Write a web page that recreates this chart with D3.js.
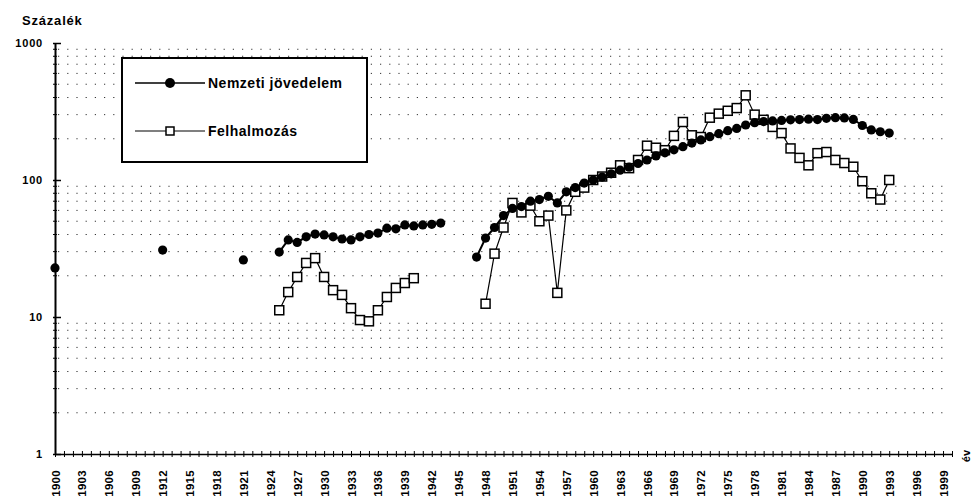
<!DOCTYPE html>
<html>
<head>
<meta charset="utf-8">
<script src="https://cdn.jsdelivr.net/npm/d3@7"></script>
<style>
body { margin: 0; background: #fff; }
text { font-family: "Liberation Sans", Arial, sans-serif; font-weight: bold; fill: #000; }
.axis path, .axis line { stroke: #000; }
.grid { stroke: #000; stroke-width: 1; stroke-dasharray: 1.2 8; opacity: 0.8; }
</style>
</head>
<body>
<div id="plot"></div>
<script>
// Nemzeti jövedelem (filled circles)
var niYears = [1900, 1912, 1921,
    1925, 1926, 1927, 1928, 1929, 1930, 1931, 1932, 1933, 1934, 1935, 1936, 1937, 1938, 1939, 1940, 1941, 1942, 1943,
    1947, 1948, 1949, 1950, 1951, 1952, 1953, 1954, 1955, 1956, 1957, 1958, 1959, 1960, 1961, 1962, 1963, 1964, 1965,
    1966, 1967, 1968, 1969, 1970, 1971, 1972, 1973, 1974, 1975, 1976, 1977, 1978, 1979, 1980, 1981, 1982, 1983, 1984,
    1985, 1986, 1987, 1988, 1989, 1990, 1991, 1992, 1993];
var niValues = [22.8, 30.8, 26.1,
    29.8, 36.5, 35, 38.5, 40.3, 39.7, 38.5, 37.1, 36.5, 38.5, 40, 41, 44.5, 44, 47, 46.2, 47, 47.5, 48.5,
    27.4, 37.7, 45, 55, 62, 64, 70, 72, 76, 68, 82, 88, 95, 100, 105, 111, 118, 124, 132,
    140, 150, 158, 166, 175, 186, 196, 207, 218, 229, 238, 252, 262, 267, 270, 272, 275, 276, 278,
    276, 282, 285, 284, 277, 250, 232, 225, 220];

// Felhalmozás (open squares)
var fhYears = [1925, 1926, 1927, 1928, 1929, 1930, 1931, 1932, 1933, 1934, 1935, 1936, 1937, 1938, 1939, 1940,
    1948, 1949, 1950, 1951, 1952, 1953, 1954, 1955, 1956, 1957, 1958, 1959, 1960, 1961, 1962, 1963, 1964, 1965,
    1966, 1967, 1968, 1969, 1970, 1971, 1972, 1973, 1974, 1975, 1976, 1977, 1978, 1979, 1980, 1981, 1982, 1983, 1984,
    1985, 1986, 1987, 1988, 1989, 1990, 1991, 1992, 1993];
var fhValues = [11.2, 15.2, 19.6, 24.8, 26.9, 19.6, 15.7, 14.5, 11.6, 9.5, 9.3, 11.2, 14, 16.3, 17.7, 19.2,
    12.5, 29, 45, 68, 58, 65, 50, 55, 15, 60, 82, 88, 100, 106, 113, 128, 122, 140,
    178, 172, 165, 210, 265, 212, 206, 285, 305, 320, 335, 415, 300, 275, 244, 220, 170, 145, 128,
    157, 160, 140, 133, 125, 98, 80, 72, 100];

var yTicks = [1, 10, 100, 1000];
var legendNames = ["Nemzeti jövedelem", "Felhalmozás"];

var W = 973, H = 503;
var svg = d3.select('#plot').append('svg').attr('width', W).attr('height', H);

var x = d3.scaleLinear().domain([1900, 2000]).range([55, 952]);
var y = d3.scaleLog().domain([1, 1000]).range([454, 43]);

// dotted grid at the minor log values
var minor = [];
[1, 10, 100].forEach(function(d){
    for (var k = 2; k <= 9; k++) minor.push(d * k);
});
svg.append('g').selectAll('line').data(minor).enter().append('line')
    .attr('class', 'grid')
    .attr('x1', 58).attr('x2', 950)
    .attr('y1', function(d){ return y(d); })
    .attr('y2', function(d){ return y(d); });

// y axis
var axisY = d3.axisLeft(y).tickValues(yTicks).tickFormat(d3.format('d')).tickSize(0).tickPadding(12);
var gy = svg.append('g').attr('class', 'axis').attr('transform', 'translate(55,0)').call(axisY);
gy.select('.domain').attr('stroke-width', 2);
gy.selectAll('text').style('font-size', '11px').style('letter-spacing', '0.8px');
gy.selectAll('.tick').append('line').attr('x1', -2).attr('x2', 6).attr('stroke-width', 1.5);
gy.selectAll('.minor').data(minor).enter().append('line')
    .attr('class', 'minor')
    .attr('x1', -2).attr('x2', 2)
    .attr('y1', function(d){ return y(d); })
    .attr('y2', function(d){ return y(d); })
    .attr('stroke', '#000');

// x axis, a tick every year, a label every 3 years
var years = d3.range(1900, 2001);
var axisX = d3.axisBottom(x).tickValues(years)
    .tickFormat(function(d){ return (d - 1900) % 3 === 0 && d < 2000 ? d : ''; })
    .tickSizeOuter(0);
var gx = svg.append('g').attr('class', 'axis').attr('transform', 'translate(0,454)').call(axisX);
gx.select('.domain').attr('stroke-width', 1.6);
gx.selectAll('.tick line').attr('y1', -3).attr('y2', 3);
gx.selectAll('.tick text')
    .attr('transform', 'rotate(-90)')
    .attr('x', -16).attr('y', 0).attr('dy', '0.35em')
    .style('text-anchor', 'end')
    .style('font-size', '11.5px')
    .style('letter-spacing', '0.3px');

svg.append('text').attr('transform', 'translate(970,456) rotate(-90)')
    .attr('text-anchor', 'middle').style('font-size', '11px').text('év');

svg.append('text').attr('x', 22).attr('y', 25)
    .style('font-size', '13px').style('letter-spacing', '0.8px').text('Százalék');

// split a series into runs of consecutive years
function runs(yrs, vals){
    var out = [], cur = [];
    yrs.forEach(function(yr, i){
        if (cur.length && yr - cur[cur.length - 1].year > 1) { out.push(cur); cur = []; }
        cur.push({year: yr, value: vals[i]});
    });
    if (cur.length) out.push(cur);
    return out;
}

var line = d3.line()
    .x(function(d){ return x(d.year); })
    .y(function(d){ return y(d.value); });

var fhRuns = runs(fhYears, fhValues);
var niRuns = runs(niYears, niValues);

// Felhalmozás
var fh = svg.append('g');
fh.selectAll('path').data(fhRuns).enter().append('path')
    .attr('d', line).attr('fill', 'none').attr('stroke', '#000').attr('stroke-width', 1.2);
fh.selectAll('rect').data(d3.merge(fhRuns)).enter().append('rect')
    .attr('x', function(d){ return x(d.year) - 4.5; })
    .attr('y', function(d){ return y(d.value) - 4.5; })
    .attr('width', 9).attr('height', 9)
    .attr('fill', '#fff').attr('stroke', '#000').attr('stroke-width', 1.5);

// Nemzeti jövedelem
var ni = svg.append('g');
ni.selectAll('path').data(niRuns).enter().append('path')
    .attr('d', line).attr('fill', 'none').attr('stroke', '#000').attr('stroke-width', 2);
ni.selectAll('circle').data(d3.merge(niRuns)).enter().append('circle')
    .attr('cx', function(d){ return x(d.year); })
    .attr('cy', function(d){ return y(d.value); })
    .attr('r', 4.6).attr('fill', '#000');

// legend
var lg = svg.append('g');
lg.append('rect').attr('x', 122).attr('y', 58).attr('width', 245).attr('height', 104)
    .attr('fill', '#fff').attr('stroke', '#000').attr('stroke-width', 2);
lg.append('line').attr('x1', 135).attr('x2', 205).attr('y1', 83).attr('y2', 83).attr('stroke', '#000').attr('stroke-width', 1.5);
lg.append('circle').attr('cx', 170).attr('cy', 83).attr('r', 5).attr('fill', '#000');
lg.append('line').attr('x1', 135).attr('x2', 205).attr('y1', 131).attr('y2', 131).attr('stroke', '#000').attr('stroke-width', 1.2);
lg.append('rect').attr('x', 166).attr('y', 127).attr('width', 8).attr('height', 8)
    .attr('fill', '#fff').attr('stroke', '#000').attr('stroke-width', 1.5);
lg.selectAll('text').data(legendNames).enter().append('text')
    .attr('x', 208)
    .attr('y', function(d, i){ return i === 0 ? 88 : 136; })
    .style('font-size', '14px').style('letter-spacing', '0.5px')
    .text(function(d){ return d; });
</script>
</body>
</html>
